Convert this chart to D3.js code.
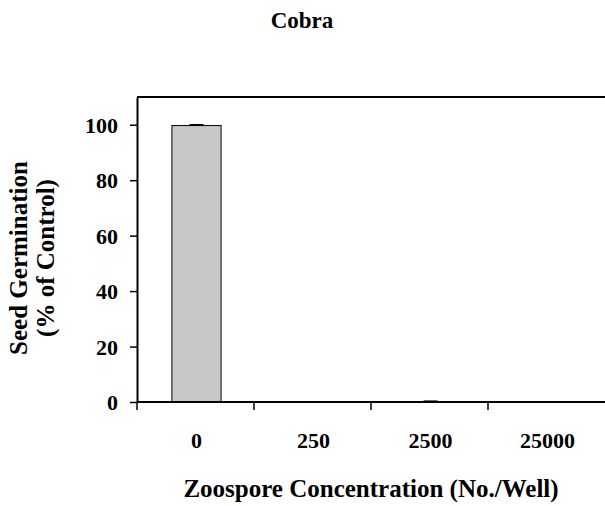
<!DOCTYPE html>
<html>
<head>
<meta charset="utf-8">
<script src="https://cdn.jsdelivr.net/npm/d3@7"></script>
<style>
  body { margin: 0; background: #fff; }
  svg text { font-family: "Liberation Serif", "Times New Roman", serif; font-weight: bold; fill: #000; }
</style>
</head>
<body>
<svg width="605" height="506"></svg>
<script>
const categories = ["0", "250", "2500", "25000"];
const germination = [99.7, 0, 0.1, 0];
const errors = [0.3, 0, 0.2, 0];
const yTicks = [0, 20, 40, 60, 80, 100];

const svg = d3.select("svg");

const plotLeft = 137, plotRight = 605, plotTop = 97, plotBottom = 402;

const xScale = d3.scaleBand()
  .domain(categories)
  .range([plotLeft, plotRight])
  .paddingInner(0)
  .paddingOuter(0);

const yScale = d3.scaleLinear()
  .domain([0, 110])
  .range([plotBottom, plotTop]);

const barW = xScale.bandwidth() * 0.42;
const data = categories.map((c, i) => ({ cat: c, value: germination[i], err: errors[i] }));

// bars
svg.selectAll(".bar")
  .data(data)
  .enter()
  .append("rect")
  .attr("class", "bar")
  .attr("x", (d) => xScale(d.cat) + (xScale.bandwidth() - barW) / 2 + 1)
  .attr("y", (d) => yScale(d.value))
  .attr("width", barW)
  .attr("height", (d) => yScale(0) - yScale(d.value))
  .attr("fill", "#c8c8c8")
  .attr("stroke", "#000")
  .attr("stroke-width", 1);

// error bars (upper only)
const capW = 14;
const cx = (d) => xScale(d.cat) + xScale.bandwidth() / 2 + 1;
svg.selectAll(".err")
  .data(data)
  .enter()
  .append("line")
  .attr("x1", cx)
  .attr("x2", cx)
  .attr("y1", (d) => yScale(d.value))
  .attr("y2", (d) => yScale(d.value + d.err))
  .attr("stroke", "#000");
svg.selectAll(".cap")
  .data(data.filter((d) => d.err > 0))
  .enter()
  .append("line")
  .attr("x1", (d) => cx(d) - capW / 2)
  .attr("x2", (d) => cx(d) + capW / 2)
  .attr("y1", (d) => yScale(d.value + d.err))
  .attr("y2", (d) => yScale(d.value + d.err))
  .attr("stroke", "#000")
  .attr("stroke-width", 1.5);

// top frame line
svg.append("line")
  .attr("x1", plotLeft).attr("x2", plotRight)
  .attr("y1", plotTop).attr("y2", plotTop)
  .attr("stroke", "#000").attr("stroke-width", 2);

// y axis
const yAxis = svg.append("g")
  .attr("transform", `translate(${plotLeft},0)`)
  .call(d3.axisLeft(yScale).tickValues(yTicks).tickSize(7).tickPadding(12).tickSizeOuter(0));
yAxis.select(".domain").attr("stroke-width", 2);
yAxis.selectAll(".tick line").attr("stroke-width", 1.5);
yAxis.selectAll("text").style("font-size", "22px").attr("dy", "0.35em");

// x axis: ticks at band boundaries
const xAxis = svg.append("g")
  .attr("transform", `translate(0,${plotBottom})`);
xAxis.append("line")
  .attr("x1", plotLeft).attr("x2", plotRight)
  .attr("stroke", "#000").attr("stroke-width", 2);
xAxis.selectAll(".xtick")
  .data(categories)
  .enter()
  .append("line")
  .attr("x1", (d) => xScale(d))
  .attr("x2", (d) => xScale(d))
  .attr("y1", 0)
  .attr("y2", 8)
  .attr("stroke", "#000")
  .attr("stroke-width", 1.5);
xAxis.selectAll(".xlabel")
  .data(categories)
  .enter()
  .append("text")
  .attr("x", (d) => xScale(d) + xScale.bandwidth() / 2 + 1)
  .attr("y", 46)
  .attr("text-anchor", "middle")
  .style("font-size", "22px")
  .text((d) => d);

// titles
svg.append("text")
  .attr("x", 302)
  .attr("y", 28)
  .attr("text-anchor", "middle")
  .style("font-size", "23px")
  .text("Cobra");

svg.append("text")
  .attr("x", (plotLeft + plotRight) / 2)
  .attr("y", 497)
  .attr("text-anchor", "middle")
  .style("font-size", "25px")
  .text("Zoospore Concentration (No./Well)");

const yTitle = svg.append("text")
  .attr("transform", `translate(0,258) rotate(-90)`)
  .attr("text-anchor", "middle")
  .style("font-size", "25px");
yTitle.append("tspan").attr("x", 0).attr("y", 27).text("Seed Germination");
yTitle.append("tspan").attr("x", 0).attr("y", 54).text("(% of Control)");
</script>
</body>
</html>
